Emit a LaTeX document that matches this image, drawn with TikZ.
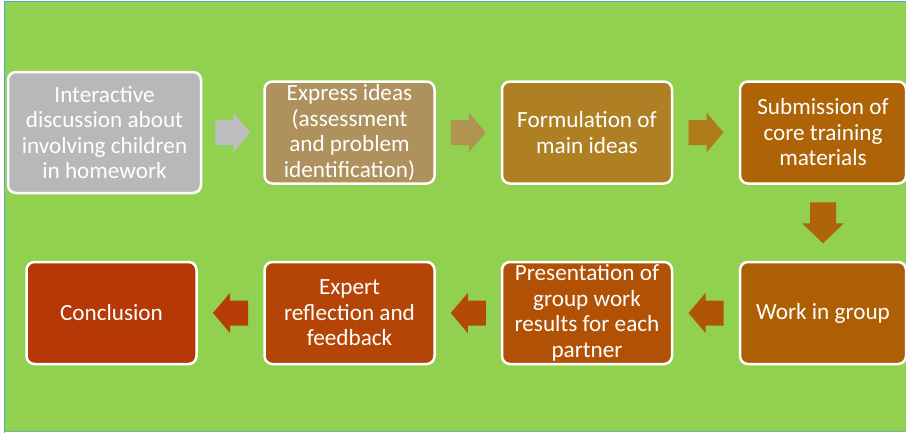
\documentclass[tikz,border=0pt]{standalone}
\usepackage{fontspec}
\setmainfont{Carlito}
\usetikzlibrary{calc}

\definecolor{bggreen}{HTML}{92D050}
\definecolor{frameblue}{HTML}{4BACC6}
\definecolor{boxA}{HTML}{B8B8B8}
\definecolor{boxB}{HTML}{AE915C}
\definecolor{boxC}{HTML}{AF7F23}
\definecolor{boxD}{HTML}{AD6306}
\definecolor{boxE}{HTML}{AE5F04}
\definecolor{boxF}{HTML}{B15105}
\definecolor{boxG}{HTML}{B44507}
\definecolor{boxH}{HTML}{B53806}
\definecolor{arrA}{HTML}{BEBEBE}
\definecolor{arrB}{HTML}{B19452}
\definecolor{arrC}{HTML}{AF7A18}
\definecolor{arrD}{HTML}{AF6409}
\definecolor{arrE}{HTML}{B05508}
\definecolor{arrF}{HTML}{B34A06}
\definecolor{arrG}{HTML}{B63E06}

\tikzset{
  stepbox/.style={rounded corners=8pt, draw=white, line width=2.5pt,
    text=white, align=center, inner sep=2pt,
    font=\fontsize{23.2}{25.5}\selectfont,
    minimum width=170pt, minimum height=102pt},
  % horizontal block arrow, pointing along the local x axis
  flowarrow/.pic={
    \fill (-17.5,-12.5) -- (0.5,-12.5) -- (0.5,-20) -- (17.5,0)
      -- (0.5,20) -- (0.5,12.5) -- (-17.5,12.5) -- cycle;
  },
  % the wider vertical block arrow
  downarrow/.pic={
    \fill (-20.5,-13) -- (0.5,-13) -- (0.5,-21) -- (20.5,0)
      -- (0.5,21) -- (0.5,13) -- (-20.5,13) -- cycle;
  }
}

\begin{document}
\begin{tikzpicture}[x=1pt,y=-1pt]
\useasboundingbox (0,0) rectangle (906,432);
% background panel
\fill[bggreen] (4,2) rectangle (912,431);
\draw[frameblue, line width=1.5pt] (4.5,433) -- (4.5,1.5) -- (912,1.5);
\draw[frameblue!60!bggreen, line width=1pt] (4,431.5) -- (912,431.5);

% first row
\node[stepbox, fill=boxA, minimum width=193pt, minimum height=121pt] (n1) at (104.5,132.5)
  {Interactive\\discussion about\\involving children\\in homework};
\node[stepbox, fill=boxB] (n2) at (349.5,132.5)
  {Express ideas\\(assessment\\and problem\\identification)};
\node[stepbox, fill=boxC] (n3) at (587,132.5) {Formulation of\\main ideas};
\node[stepbox, fill=boxD, minimum width=166pt] (n4) at (823,132.5)
  {Submission of\\core training\\materials};

% second row
\node[stepbox, fill=boxE, minimum width=166pt] (n5) at (823,313) {Work in group};
\node[stepbox, fill=boxF] (n6) at (587,313)
  {Presentation of\\group work\\results for each\\partner};
\node[stepbox, fill=boxG] (n7) at (349.5,313) {Expert\\reflection and\\feedback};
\node[stepbox, fill=boxH] (n8) at (111.5,313) {Conclusion};

% anchor points for the block arrows between the steps
\coordinate (a12) at ($(n1.east)!0.5!(n2.west)$);
\coordinate (a23) at ($(n2.east)!0.5!(n3.west)$);
\coordinate (a34) at ($(n3.east)!0.5!(n4.west)$);
\coordinate (a45) at ($(n4.south)!0.5!(n5.north)$);
\coordinate (a56) at ($(n5.west)!0.5!(n6.east)$);
\coordinate (a67) at ($(n6.west)!0.5!(n7.east)$);
\coordinate (a78) at ($(n7.west)!0.5!(n8.east)$);

\pic[fill=arrA] at (a12) {flowarrow};
\pic[fill=arrB] at (a23) {flowarrow};
\pic[fill=arrC] at (a34) {flowarrow};
\pic[fill=arrD, rotate=-90] at (a45) {downarrow};
\pic[fill=arrE, rotate=180] at (a56) {flowarrow};
\pic[fill=arrF, rotate=180] at (a67) {flowarrow};
\pic[fill=arrG, rotate=180] at (a78) {flowarrow};
\end{tikzpicture}
\end{document}
